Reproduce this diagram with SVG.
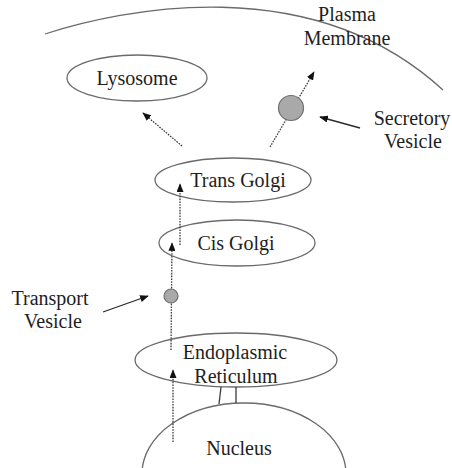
<svg xmlns="http://www.w3.org/2000/svg" width="452" height="468" viewBox="0 0 452 468">
  <style>
    .bg { fill: #ffffff; }
    .organelle { fill: none; stroke: #6a6a6a; stroke-width: 1.3; }
    .membrane { fill: none; stroke: #6a6a6a; stroke-width: 1.3; }
    .vesicle { fill: #a9a9a9; stroke: #6f6f6f; stroke-width: 1.2; }
    .label { font-family: "Liberation Serif", "Times New Roman", serif; font-size: 20px; fill: #1e1e1e; text-anchor: middle; }
    .flow { fill: none; stroke: #3a3a3a; stroke-width: 1.3; stroke-dasharray: 1.6 1.2; }
    .pointer { fill: none; stroke: #2a2a2a; stroke-width: 1.3; }
    .tether { fill: none; stroke: #3a3a3a; stroke-width: 1.3; }
  </style>
  <defs>
    <marker id="head" viewBox="0 0 10 8" refX="9" refY="4" markerWidth="9" markerHeight="7" markerUnits="userSpaceOnUse" orient="auto">
      <path d="M0,0 L10,4 L0,8 z" fill="#111"/>
    </marker>
  </defs>

  <rect class="bg" x="0" y="0" width="452" height="468"/>

  <!-- cell boundary -->
  <g id="plasma-membrane">
    <path class="membrane" d="M45,34 C120,10 310,-32 443,90"/>
    <text class="label" x="347" y="21">Plasma</text>
    <text class="label" x="347" y="45">Membrane</text>
  </g>

  <g id="lysosome">
    <ellipse class="organelle" cx="137" cy="78" rx="70" ry="23"/>
    <text class="label" x="137" y="85">Lysosome</text>
  </g>

  <g id="trans-golgi">
    <ellipse class="organelle" cx="233" cy="180" rx="78" ry="22"/>
    <text class="label" x="238" y="187">Trans Golgi</text>
  </g>

  <g id="cis-golgi">
    <ellipse class="organelle" cx="237" cy="243" rx="78" ry="23"/>
    <text class="label" x="236" y="250">Cis Golgi</text>
  </g>

  <g id="endoplasmic-reticulum">
    <ellipse class="organelle" cx="236" cy="360" rx="101" ry="27"/>
    <text class="label" x="235" y="359">Endoplasmic</text>
    <text class="label" x="236" y="383">Reticulum</text>
  </g>

  <g id="nucleus">
    <ellipse class="organelle" cx="244" cy="474" rx="102" ry="71"/>
    <text class="label" x="239" y="455">Nucleus</text>
  </g>

  <g id="secretory-vesicle">
    <text class="label" x="412" y="125">Secretory</text>
    <text class="label" x="413" y="148">Vesicle</text>
  </g>

  <g id="transport-vesicle">
    <text class="label" x="50" y="305">Transport</text>
    <text class="label" x="53" y="328">Vesicle</text>
  </g>

  <g id="connectors">
    <!-- ER / nuclear envelope junction -->
    <line class="tether" x1="221" y1="387" x2="219" y2="404"/>
    <line class="tether" x1="236" y1="387" x2="236" y2="403"/>

    <!-- transport pathway -->
    <line class="flow" x1="173" y1="442" x2="173" y2="370" marker-end="url(#head)"/>
    <line class="flow" x1="171" y1="350" x2="172" y2="243" marker-end="url(#head)"/>
    <line class="flow" x1="180" y1="245" x2="180" y2="184" marker-end="url(#head)"/>
    <line class="flow" x1="182" y1="146" x2="143" y2="113" marker-end="url(#head)"/>
    <line class="flow" x1="270" y1="147" x2="314" y2="72" marker-end="url(#head)"/>

    <!-- vesicles carried along the pathway -->
    <circle class="vesicle" cx="171" cy="296" r="7"/>
    <circle class="vesicle" cx="291" cy="108" r="12.5"/>

    <!-- label pointers -->
    <line class="pointer" x1="103" y1="312" x2="148" y2="296" marker-end="url(#head)"/>
    <line class="pointer" x1="360" y1="128" x2="320" y2="117" marker-end="url(#head)"/>
  </g>
</svg>
